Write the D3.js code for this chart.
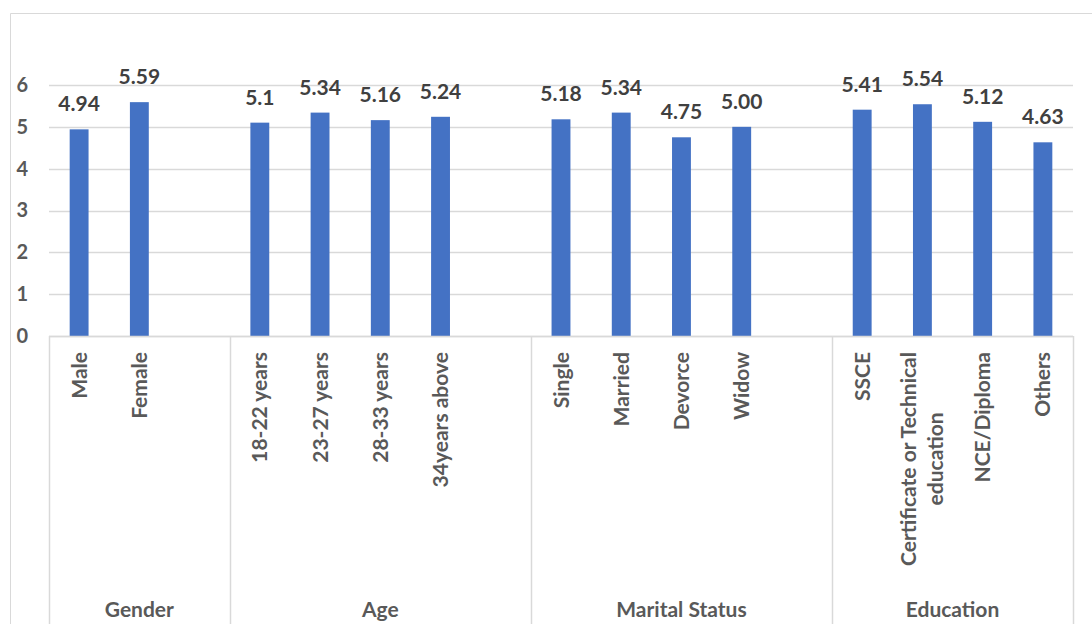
<!DOCTYPE html>
<html>
<head>
<meta charset="utf-8">
<script src="https://cdn.jsdelivr.net/npm/d3@7"></script>
<style>
  body { margin: 0; background: #fff; }
  svg text { font-family: Lato, "Open Sans", sans-serif; font-weight: bold; }
</style>
</head>
<body>
<div id="chart"></div>
<script>
// Données du graphique.
const groups = ["Gender", "Age", "Marital Status", "Education"];
const categories = [
  ["Male", "Female"],
  ["18-22 years", "23-27 years", "28-33 years", "34years above"],
  ["Single", "Married", "Devorce", "Widow"],
  ["SSCE", "Certificate or Technical\neducation", "NCE/Diploma", "Others"],
];
const values = [
  [4.94, 5.59],
  [5.1, 5.34, 5.16, 5.24],
  [5.18, 5.34, 4.75, 5.0],
  [5.41, 5.54, 5.12, 4.63],
];
const valueLabels = [
  ["4.94", "5.59"],
  ["5.1", "5.34", "5.16", "5.24"],
  ["5.18", "5.34", "4.75", "5.00"],
  ["5.41", "5.54", "5.12", "4.63"],
];
const yTicks = [0, 1, 2, 3, 4, 5, 6];

const width = 1092;
const height = 624;
const left = 49, right = 1073, zeroY = 336, sixY = 85;

// Une case par catégorie, plus une case vide entre les groupes.
const slots = [];
const bars = [];
categories.forEach((cats, g) => {
  cats.forEach((c, i) => {
    const key = g + "-" + i;
    slots.push(key);
    bars.push({ key, label: c, value: values[g][i], text: valueLabels[g][i], group: g });
  });
  if (g < categories.length - 1) slots.push("blank-" + g);
});

const svg = d3.select("#chart").append("svg")
  .attr("width", width)
  .attr("height", height);

// Cadre du graphique.
svg.append("path")
  .attr("d", `M10.5,${height + 5}V13.5H${width + 5}`)
  .attr("fill", "none")
  .attr("stroke", "#d9d9d9");

const x = d3.scaleBand().domain(slots).range([left, right]).paddingInner(0).paddingOuter(0);
const y = d3.scaleLinear().domain([0, 6]).range([zeroY, sixY]);
const barW = x.bandwidth() / 3.19;

// Quadrillage horizontal.
svg.append("g")
  .selectAll("line")
  .data(yTicks)
  .join("line")
  .attr("x1", left)
  .attr("x2", right)
  .attr("y1", d => Math.round(y(d)) + 0.5)
  .attr("y2", d => Math.round(y(d)) + 0.5)
  .attr("stroke", "#d9d9d9")
  .attr("stroke-width", 1.5);

// Axe vertical (étiquettes seulement).
const yAxis = svg.append("g")
  .attr("transform", "translate(28,0)")
  .call(d3.axisLeft(y).tickValues(yTicks).tickSize(0).tickPadding(0).tickFormat(d3.format("d")));
yAxis.select(".domain").remove();
yAxis.selectAll("text")
  .attr("fill", "#595959")
  .style("font-size", "20px")
  .style("font-family", "Lato, 'Open Sans', sans-serif");

// Barres.
svg.append("g")
  .selectAll("rect")
  .data(bars)
  .join("rect")
  .attr("x", d => x(d.key) + (x.bandwidth() - barW) / 2)
  .attr("width", barW)
  .attr("y", d => y(d.value))
  .attr("height", d => y(0) - y(d.value))
  .attr("fill", "#4472c4");

// Étiquettes de valeurs.
svg.append("g")
  .selectAll("text")
  .data(bars)
  .join("text")
  .attr("x", d => x(d.key) + x.bandwidth() / 2)
  .attr("y", d => y(d.value) - 18)
  .attr("text-anchor", "middle")
  .attr("fill", "#404040")
  .style("font-size", "21px")
  .text(d => d.text);

// Axe des catégories à deux niveaux.
const axisG = svg.append("g");
axisG.append("line")
  .attr("x1", left).attr("x2", right)
  .attr("y1", zeroY + 0.5).attr("y2", zeroY + 0.5)
  .attr("stroke", "#d9d9d9").attr("stroke-width", 1.5);

const groupBounds = categories.map((cats, g) => {
  const first = x(g + "-0");
  const lastKey = g < categories.length - 1 ? "blank-" + g : g + "-" + (cats.length - 1);
  return [first, x(lastKey) + x.bandwidth()];
});
const seps = [left].concat(groupBounds.map(b => b[1]));
axisG.selectAll("line.sep")
  .data(seps)
  .join("line")
  .attr("class", "sep")
  .attr("x1", d => Math.round(d) + 0.5).attr("x2", d => Math.round(d) + 0.5)
  .attr("y1", zeroY).attr("y2", height + 5)
  .attr("stroke", "#d9d9d9").attr("stroke-width", 1.5);

axisG.selectAll("text.group")
  .data(groups)
  .join("text")
  .attr("class", "group")
  .attr("x", (d, i) => (groupBounds[i][0] + groupBounds[i][1]) / 2)
  .attr("y", 617)
  .attr("text-anchor", "middle")
  .attr("fill", "#595959")
  .style("font-size", "21px")
  .text(d => d);

const catLabels = axisG.selectAll("g.cat")
  .data(bars)
  .join("g")
  .attr("class", "cat")
  .attr("transform", d => `translate(${x(d.key) + x.bandwidth() / 2},352) rotate(-90)`);

catLabels.each(function (d) {
  const g = d3.select(this);
  const lines = d.label.split("\n");
  const lh = 27;
  const first = g.append("text")
    .attr("x", 0)
    .attr("y", -(lines.length - 1) * lh / 2)
    .attr("dy", "0.36em")
    .attr("text-anchor", "end")
    .attr("fill", "#595959")
    .style("font-size", "21px")
    .text(lines[0]);
  const L = first.node().getComputedTextLength();
  lines.slice(1).forEach((t, i) => {
    g.append("text")
      .attr("x", -L / 2)
      .attr("y", -(lines.length - 1) * lh / 2 + (i + 1) * lh)
      .attr("dy", "0.36em")
      .attr("text-anchor", "middle")
      .attr("fill", "#595959")
      .style("font-size", "21px")
      .text(t);
  });
});
</script>
</body>
</html>
